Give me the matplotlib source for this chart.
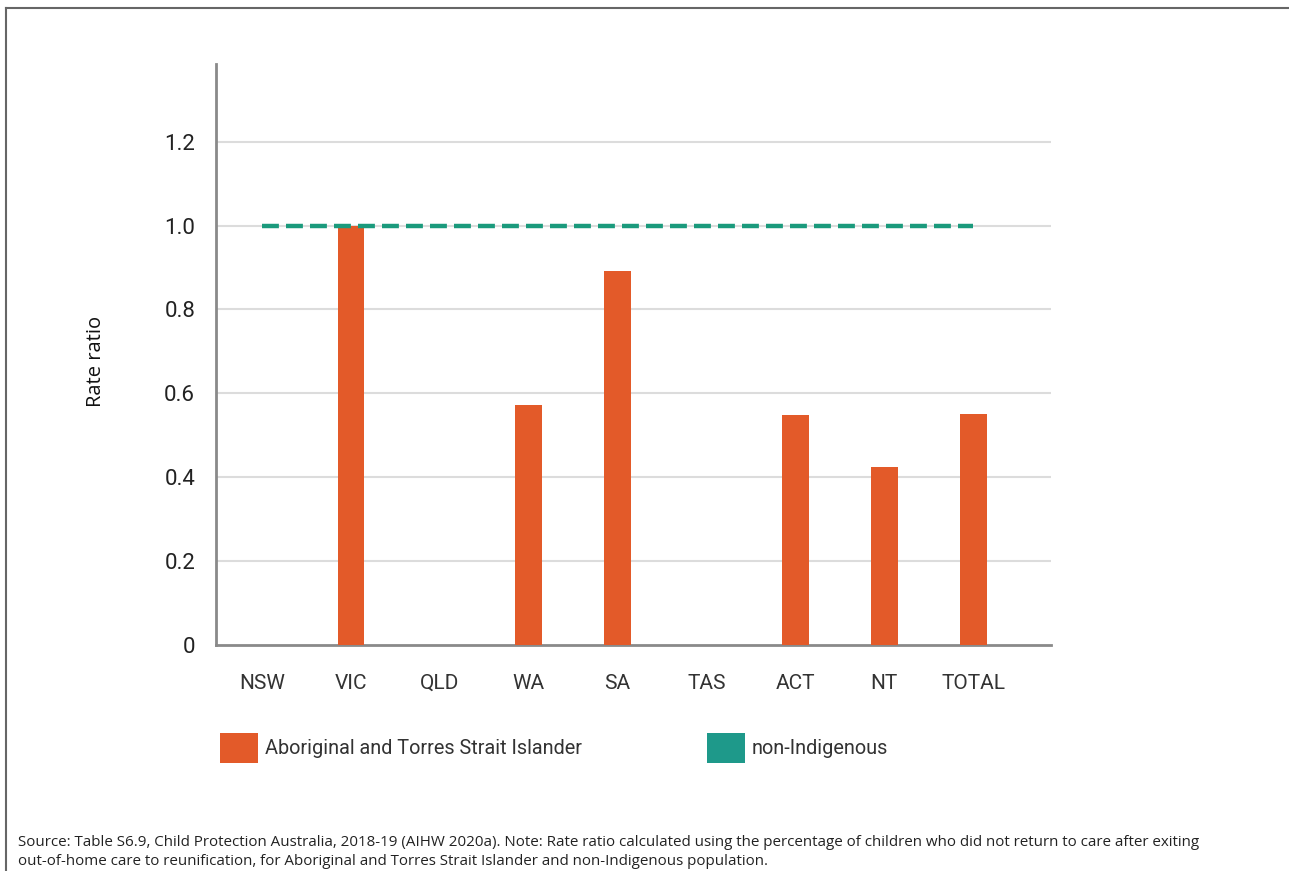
import matplotlib
matplotlib.use("Agg")
import matplotlib.pyplot as plt
from matplotlib.patches import Patch
from matplotlib.lines import Line2D

categories = ["NSW", "VIC", "QLD", "WA", "SA", "TAS", "ACT", "NT", "TOTAL"]
aboriginal = [0, 1.0, 0, 0.571, 0.892, 0, 0.548, 0.424, 0.551]
non_indigenous = [1.0, 1.0, 1.0, 1.0, 1.0, 1.0, 1.0, 1.0, 1.0]
yticks = [0, 0.2, 0.4, 0.6, 0.8, 1.0, 1.2]
ytick_labels = ["0", "0.2", "0.4", "0.6", "0.8", "1.0", "1.2"]
legend_labels = ["Aboriginal and Torres Strait Islander", "non-Indigenous"]
source_text = ("Source: Table S6.9, Child Protection Australia, 2018-19 (AIHW 2020a). Note: Rate ratio calculated using the percentage of children who did not return to care after exiting\n"
               "out-of-home care to reunification, for Aboriginal and Torres Strait Islander and non-Indigenous population.")

ORANGE = "#e35a29"
TEAL = "#1e998a"
LINE_TEAL = "#1a9a7c"

W, H = 1289, 871
fig = plt.figure(figsize=(W / 100, H / 100), dpi=100)
fig.patch.set_facecolor("white")

ax = fig.add_axes([216 / W, 1 - 645 / H, (1051 - 216) / W, (645 - 64) / H])
x = list(range(len(categories)))

ax.bar(x, aboriginal, width=0.30, color=ORANGE, zorder=3)
ax.plot(x, non_indigenous, color=LINE_TEAL, lw=3.2, ls=(0, (3.8, 1.6)), zorder=4)

ax.set_xlim(-0.517, 8.875)
ax.set_ylim(0, 1.385)
ax.set_yticks(yticks)
ax.set_yticklabels(ytick_labels)
ax.set_xticks(x)
ax.set_xticklabels(categories)

for v in yticks[1:]:
    ax.axhline(v, color="#dcdcdc", lw=1.5, zorder=1)

for s in ["top", "right"]:
    ax.spines[s].set_visible(False)
ax.spines["left"].set_color("#8a8a8a")
ax.spines["left"].set_linewidth(2)
ax.spines["bottom"].set_color("#8a8a8a")
ax.spines["bottom"].set_linewidth(2)

ax.tick_params(axis="both", length=0)
ax.tick_params(axis="y", pad=15, labelsize=16, labelcolor="#222222")
ax.tick_params(axis="x", pad=21, labelsize=15, labelcolor="#333333")
for lab in ax.get_xticklabels() + ax.get_yticklabels():
    lab.set_family("Roboto")

fig.text(96 / W, 1 - 361 / H, "Rate ratio", rotation=90, ha="center", va="center",
         fontsize=14.5, family="Open Sans", color="#111111")

handles = [Patch(facecolor=ORANGE, edgecolor="none"), Patch(facecolor=TEAL, edgecolor="none")]
leg = fig.legend(handles, legend_labels, loc="upper left",
                 bbox_to_anchor=(220 / W, 1 - 733 / H), ncol=2, frameon=False,
                 borderpad=0, borderaxespad=0, handlelength=1.9, handleheight=1.95,
                 handletextpad=0.35, columnspacing=6.3,
                 prop={"family": "Roboto", "size": 14.3})
for t in leg.get_texts():
    t.set_color("#333333")

fig.text(18 / W, 1 - 852 / H, source_text, ha="left", va="center", fontsize=10.93,
         family="Open Sans", color="#222222", linespacing=1.3)

# frame lines (top and left)
fig.add_artist(Line2D([6 / W, 1], [1 - 8 / H, 1 - 8 / H], transform=fig.transFigure,
                      color="#666666", lw=1.5))
fig.add_artist(Line2D([6 / W, 6 / W], [0, 1 - 8 / H], transform=fig.transFigure,
                      color="#666666", lw=1.5))

fig.savefig("out.png", dpi=100, facecolor="white")
